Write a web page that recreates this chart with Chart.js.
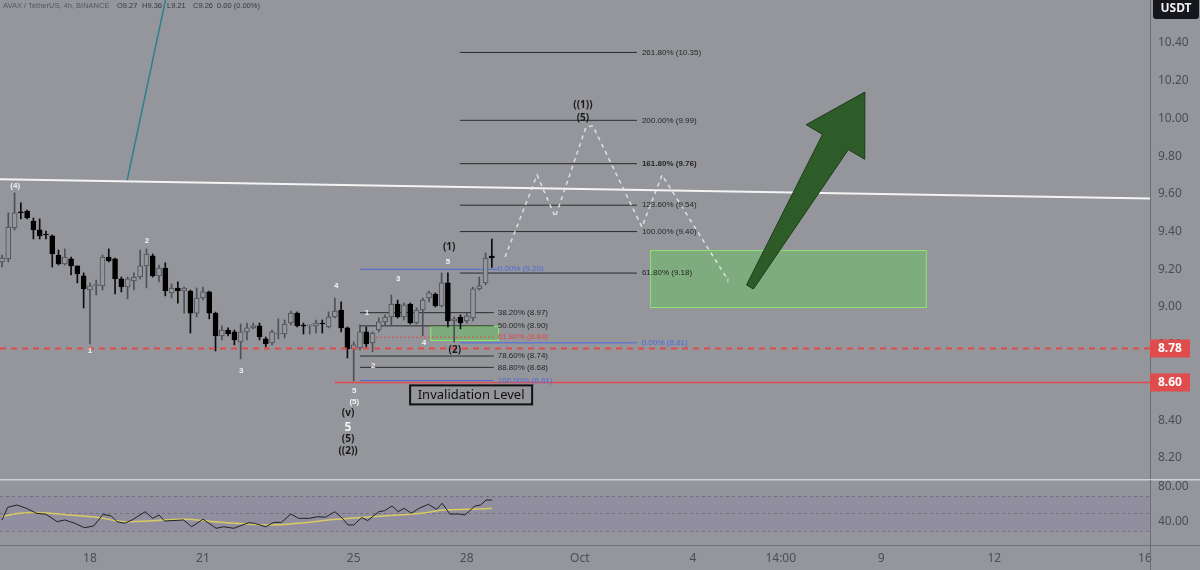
<!DOCTYPE html>
<html>
<head>
<meta charset="utf-8">
<script src="https://cdn.jsdelivr.net/npm/chart.js@4.4.1/dist/chart.umd.min.js"></script>
<style>
  html, body { margin: 0; padding: 0; background: #94969b; }
  #wrap { position: relative; width: 1200px; height: 570px; overflow: hidden; }
  #price { position: absolute; left: 0; top: 0; }
  #osc { position: absolute; left: 0; top: 479px; }
</style>
</head>
<body>
<div id="wrap">
  <canvas id="price" width="1200" height="479"></canvas>
  <canvas id="osc" width="1200" height="91"></canvas>
</div>
<script>
// AVAX/USDT 4h candles
const opens = [9.239, 9.255, 9.419, 9.504, 9.509, 9.456, 9.409, 9.385, 9.377, 9.276,
  9.228, 9.255, 9.218, 9.165, 9.09, 9.115, 9.112, 9.265, 9.255, 9.149,
  9.106, 9.138, 9.159, 9.218, 9.271, 9.165, 9.207, 9.075, 9.101, 9.085,
  9.085, 8.968, 9.048, 9.08, 8.968, 8.847, 8.878, 8.868, 8.815, 8.868,
  8.889, 8.9, 8.831, 8.809, 8.857, 8.857, 8.915, 8.968, 8.902, 8.9,
  8.9, 8.915, 8.894, 8.947, 8.984, 8.889, 8.778, 8.783, 8.868, 8.809,
  8.878, 8.921, 8.947, 9.016, 8.947, 9.016, 8.915, 8.984, 9.048, 9.069,
  9.006, 9.128, 8.926, 8.947, 8.926, 8.942, 9.096, 9.128, 9.27];
const highs = [9.276, 9.499, 9.605, 9.552, 9.514, 9.472, 9.467, 9.403, 9.382, 9.302,
  9.308, 9.265, 9.218, 9.181, 9.128, 9.143, 9.276, 9.308, 9.26, 9.159,
  9.159, 9.181, 9.302, 9.308, 9.281, 9.223, 9.234, 9.122, 9.133, 9.106,
  9.09, 9.101, 9.106, 9.085, 8.973, 8.9, 8.889, 8.878, 8.91, 8.915,
  8.915, 8.915, 8.841, 8.878, 8.937, 8.931, 8.979, 8.974, 8.915, 8.905,
  8.931, 8.931, 8.974, 9.048, 9.027, 8.894, 8.815, 8.905, 8.894, 8.868,
  8.942, 8.958, 9.064, 9.037, 9.021, 9.021, 8.995, 9.048, 9.085, 9.075,
  9.181, 9.181, 8.947, 8.958, 8.968, 9.106, 9.159, 9.287, 9.36];
const lows = [9.212, 9.239, 9.409, 9.467, 9.467, 9.361, 9.361, 9.361, 9.212, 9.223,
  9.223, 9.17, 9.128, 8.995, 8.804, 9.064, 9.09, 9.239, 9.069, 9.08,
  9.043, 9.09, 9.149, 9.101, 9.159, 9.133, 9.059, 9.048, 9.021, 8.968,
  8.862, 8.947, 9.037, 8.937, 8.767, 8.825, 8.847, 8.799, 8.725, 8.825,
  8.884, 8.825, 8.788, 8.799, 8.831, 8.836, 8.905, 8.894, 8.857, 8.857,
  8.862, 8.862, 8.889, 8.942, 8.868, 8.73, 8.608, 8.772, 8.788, 8.762,
  8.868, 8.905, 8.905, 8.942, 8.931, 8.91, 8.91, 8.847, 9.027, 9.0,
  9.0, 8.894, 8.815, 8.884, 8.915, 8.926, 9.09, 9.117, 9.21];
const closes = [9.26, 9.424, 9.499, 9.499, 9.472, 9.409, 9.377, 9.382, 9.281, 9.228,
  9.265, 9.218, 9.175, 9.096, 9.112, 9.117, 9.265, 9.244, 9.149, 9.106,
  9.149, 9.159, 9.218, 9.281, 9.165, 9.207, 9.085, 9.101, 9.085, 9.101,
  8.968, 9.048, 9.08, 8.968, 8.847, 8.878, 8.857, 8.825, 8.868, 8.889,
  8.9, 8.841, 8.804, 8.868, 8.86, 8.91, 8.968, 8.9, 8.899, 8.902,
  8.915, 8.91, 8.947, 8.979, 8.889, 8.778, 8.799, 8.868, 8.804, 8.862,
  8.921, 8.947, 9.016, 8.947, 9.011, 8.915, 8.984, 9.037, 9.075, 9.006,
  9.128, 8.926, 8.937, 8.915, 8.953, 9.096, 9.112, 9.26, 9.26];

// RSI pane
const rsiX = [0, 0.9, 2.4, 3.9, 5.5, 7.0, 8.8, 10, 11.6, 13.1, 14.6, 16.1, 17.4, 18.3, 19.5, 20.7, 22.8, 24, 25, 25.9,
  28.9, 30.2, 32, 34.1, 35.3, 36.9, 39.3, 40.2, 42, 43.3, 44.5, 46, 47.2, 49, 50.3, 51.5, 53, 54.2, 55.1, 56,
  57.3, 58.2, 60, 60.9, 62.1, 63.1, 64, 65.2, 66.4, 67.9, 69.2, 70.1, 71.3, 72.8, 73.7, 74.3, 75.3, 76.2, 77.1, 78];
const rsiY = [42.3, 56.8, 59.4, 55.6, 50, 48.8, 40.4, 42.3, 38.5, 33.5, 35.4, 48.8, 46.9, 40.4, 38.5, 42.3, 51.8, 44.2, 48, 41.1,
  42.3, 34.6, 43.1, 32.8, 34.6, 32.8, 39.2, 38.5, 34.6, 39.6, 39.6, 49.1, 44.2, 44.2, 46.1, 45.4, 51.8, 44.2, 36.6, 36.6,
  45, 41.5, 51.8, 52.9, 58.3, 51.8, 55.6, 50, 55.6, 60.2, 54.5, 61.4, 49.1, 49.1, 48, 51.8, 58.3, 59.4, 65.1, 65.1];
const maX = [0, 2.7, 6.4, 10.7, 15, 19.7, 29, 33.8, 42.4, 47.1, 53.3, 60.7, 66.7, 70.4, 74.7, 78];
const maY = [46.1, 50, 50.7, 48, 45.4, 40.4, 43.1, 40.4, 36.6, 38.5, 43.1, 46.9, 50, 53.7, 54.5, 55.6];

// axes
const priceTicks = [8.2, 8.4, 8.6, 8.8, 9.0, 9.2, 9.4, 9.6, 9.8, 10.0, 10.2, 10.4];
const rsiTicks = [40, 80];
const timeTicks = [14, 32, 56, 74, 92, 110, 124, 140, 158, 182];
const timeLabels = ['18', '21', '25', '28', 'Oct', '4', '14:00', '9', '12', '16'];

// drawings
const fibUpLevels = [10.35, 9.99, 9.76, 9.54, 9.40, 9.18, 8.81];
const fibUpNames = ['261.80%', '200.00%', '161.80%', '123.60%', '100.00%', '61.80%', '0.00%'];
const fibLowLevels = [9.20, 8.97, 8.90, 8.84, 8.74, 8.68, 8.61];
const fibLowNames = ['0.00%', '38.20%', '50.00%', '61.80%', '78.60%', '88.80%', '100.00%'];
const pathX = [80.1, 85.2, 88.1, 93.0, 94.1, 101.9, 105.1, 115.6];
const pathY = [9.265, 9.70, 9.477, 9.955, 9.96, 9.424, 9.70, 9.143];
const trendX = [-0.32, 182.8];
const trendY = [9.677, 9.575];
const tealX = [19.9, 27];
const tealY = [9.668, 10.78];
const zoneX0 = [68.2, 103.2];
const zoneX1 = [79.0, 147.1];
const zoneTop = [8.90, 9.302];
const zoneBot = [8.825, 9.0];
const arrowFrom = [119.1, 9.106];
const arrowTo = [137.4, 10.14];
const waveText = ['(4)', '2', '1', '3', '4', '1', '2', '3', '4', '5', '5', '(5)', '(v)', '5', '(5)', '((2))', '(1)', '(2)', '((1))', '(5)', 'i'];
const waveX = [2.1, 23.1, 14.0, 38.1, 53.2, 58.1, 59.1, 63.1, 67.2, 71.0, 56.1, 56.1, 55.1, 55.1, 55.1, 55.1, 71.2, 72.1, 92.5, 92.5, 115.6];
const waveY = [9.642, 9.35, 8.767, 8.661, 9.112, 8.968, 8.687, 9.149, 8.809, 9.239, 8.555, 8.497, 8.438, 8.359, 8.30, 8.237, 9.318, 8.772, 10.071, 10.002, 9.138];

const X_MIN = -0.32, X_MAX = 182.8;
const BG = '#94969b';
const AXIS = '#4a4d55';
const UP = '#4d5057';
const FONT = '"Noto Sans", sans-serif';
const SMALL = '"Liberation Sans", Arial, sans-serif';
const BLUE = '#4a6be0';
const RED = '#e04b4b';
const idx = opens.map((o, i) => i);
const isUp = i => closes[i] >= opens[i];

function seg(xs, ys, color, width, dash, order) {
  return {
    type: 'line',
    data: xs.map((x, i) => ({ x: x, y: ys[i] })),
    borderColor: color, borderWidth: width, borderDash: dash || [],
    pointRadius: 0, fill: false, tension: 0, order: order
  };
}

const fibSets = [];
fibUpLevels.forEach((v, i) => {
  fibSets.push(seg([72.9, 101.1], [v, v], v === 8.81 ? BLUE : '#2b2b2b', 1, [], 10));
});
fibLowLevels.forEach((v, i) => {
  const c = i === 0 || i === 6 ? BLUE : (i === 3 ? RED : '#2b2b2b');
  fibSets.push(seg([57.0, i === 0 ? 79.0 : 78.3], [v, v], c, 1, i === 3 ? [2, 2] : [], 10));
});

function px(chart, x, y) {
  return [chart.scales.x.getPixelForValue(x), chart.scales.y.getPixelForValue(y)];
}

// drop the half-label padding Chart.js adds above and below a vertical axis
function noPad(s) {
  s.width = 50;
  s.paddingTop = 0;
  s.paddingBottom = 0;
}

const overlay = {
  id: 'overlay',
  beforeDatasetsDraw(chart) {
    const ctx = chart.ctx;
    ctx.save();
    zoneX0.forEach((x0, i) => {
      const a = px(chart, x0, zoneTop[i]);
      const b = px(chart, zoneX1[i], zoneBot[i]);
      ctx.fillStyle = 'rgba(100,200,90,0.45)';
      ctx.fillRect(a[0], a[1], b[0] - a[0], b[1] - a[1]);
      ctx.strokeStyle = '#8ee46f';
      ctx.lineWidth = 1;
      ctx.strokeRect(a[0] + 0.5, a[1] + 0.5, b[0] - a[0], b[1] - a[1]);
    });
    ctx.restore();
  },
  afterDatasetsDraw(chart) {
    const ctx = chart.ctx;
    ctx.save();
    // big arrow
    const t = px(chart, arrowFrom[0], arrowFrom[1]);
    const h = px(chart, arrowTo[0], arrowTo[1]);
    const dx = h[0] - t[0], dy = h[1] - t[1];
    const len = Math.hypot(dx, dy);
    const ux = dx / len, uy = dy / len;
    const nx = -uy, ny = ux;
    const bx = h[0] - ux * 58, by = h[1] - uy * 58;
    ctx.beginPath();
    ctx.moveTo(t[0] - nx * 4, t[1] - ny * 4);
    ctx.lineTo(bx - nx * 15, by - ny * 15);
    ctx.lineTo(bx - nx * 34, by - ny * 34);
    ctx.lineTo(h[0], h[1]);
    ctx.lineTo(bx + nx * 34, by + ny * 34);
    ctx.lineTo(bx + nx * 15, by + ny * 15);
    ctx.lineTo(t[0] + nx * 4, t[1] + ny * 4);
    ctx.closePath();
    ctx.fillStyle = '#2e5c29';
    ctx.fill();
    ctx.strokeStyle = '#1c3a19';
    ctx.lineWidth = 1;
    ctx.stroke();

    // fib labels
    ctx.textBaseline = 'middle';
    ctx.textAlign = 'left';
    fibUpLevels.forEach((v, i) => {
      const p = px(chart, 101.1, v);
      ctx.font = (i === 2 ? 'bold ' : '') + '8px ' + SMALL;
      ctx.fillStyle = v === 8.81 ? BLUE : '#262626';
      ctx.fillText(fibUpNames[i] + ' (' + v.toFixed(2) + ')', p[0] + 5, p[1]);
    });
    fibLowLevels.forEach((v, i) => {
      const p = px(chart, 78.3, v);
      ctx.font = '8px ' + SMALL;
      ctx.fillStyle = i === 0 || i === 6 ? BLUE : (i === 3 ? RED : '#262626');
      ctx.fillText(fibLowNames[i] + ' (' + v.toFixed(2) + ')', p[0] + 4, p[1]);
    });

    // wave counts
    ctx.textAlign = 'center';
    waveText.forEach((s, i) => {
      const p = px(chart, waveX[i], waveY[i]);
      let font = 'bold 8px ' + SMALL, col = '#f2f2f2';
      if (s === '(1)' || s === '(2)' || s === '((1))' || s === '((2))' || s === '(v)' || (s === '(5)' && i !== 11)) {
        font = 'bold 10px ' + FONT; col = '#1a1a1a';
      }
      if (i === 13) { font = 'bold 12px ' + FONT; }
      if (s === 'i') { col = 'rgba(235,235,235,0.6)'; }
      ctx.font = font;
      ctx.fillStyle = col;
      ctx.fillText(s, p[0], p[1]);
    });

    // invalidation level box
    const c = px(chart, 74.7, 8.534);
    ctx.strokeStyle = '#111';
    ctx.lineWidth = 2;
    ctx.strokeRect(c[0] - 61, c[1] - 9.5, 122, 19);
    ctx.font = '13px ' + FONT;
    ctx.fillStyle = '#111';
    ctx.fillText('Invalidation Level', c[0], c[1] + 0.5);
    ctx.restore();
  },
  afterDraw(chart) {
    const ctx = chart.ctx;
    const area = chart.chartArea;
    ctx.save();
    // header
    ctx.textBaseline = 'middle';
    ctx.textAlign = 'left';
    ctx.font = '7.5px ' + SMALL;
    ctx.fillStyle = '#55585f';
    ctx.fillText('AVAX / TetherUS, 4h, BINANCE', 3, 6);
    const parts = ['O9.27', 'H9.36', 'L9.21', 'C9.26', '0.00 (0.00%)'];
    const xs = [117, 142, 167, 193, 217];
    ctx.fillStyle = '#35383f';
    parts.forEach((s, i) => ctx.fillText(s, xs[i], 6));
    // USDT tag
    ctx.fillStyle = '#15171c';
    ctx.beginPath();
    ctx.roundRect(area.right + 3, -4, 46, 23, 3);
    ctx.fill();
    ctx.fillStyle = '#f0f0f0';
    ctx.font = 'bold 12px ' + FONT;
    ctx.textAlign = 'center';
    ctx.fillText('USDT', area.right + 26, 9);
    // price tags
    [8.78, 8.60].forEach(v => {
      const y = chart.scales.y.getPixelForValue(v);
      ctx.fillStyle = RED;
      ctx.fillRect(area.right, y - 9, 40, 18);
      ctx.fillStyle = '#ffffff';
      ctx.font = 'bold 12px ' + FONT;
      ctx.textAlign = 'left';
      ctx.fillText(v.toFixed(2), area.right + 8, y + 0.5);
    });
    ctx.restore();
  }
};

new Chart(document.getElementById('price'), {
  type: 'bar',
  data: {
    datasets: [
      {
        type: 'bar',
        data: idx.map(i => ({ x: i, y: [lows[i], highs[i]] })),
        backgroundColor: c => isUp(c.dataIndex) ? UP : '#0c0c0c',
        barThickness: 1,
        grouped: false,
        order: 6
      },
      {
        type: 'bar',
        data: idx.map(i => ({ x: i, y: [opens[i], closes[i]] })),
        backgroundColor: c => isUp(c.dataIndex) ? BG : '#000000',
        borderColor: c => isUp(c.dataIndex) ? UP : '#000000',
        borderWidth: 1,
        borderSkipped: false,
        minBarLength: 1,
        barThickness: 5,
        grouped: false,
        order: 5
      },
      ...fibSets,
      seg([X_MIN, X_MAX], [8.78, 8.78], RED, 2, [6, 5], 3),
      seg([53, X_MAX], [8.60, 8.60], RED, 1.5, [], 3),
      seg(trendX, trendY, '#f4f4f4', 2, [], 2),
      seg(tealX, tealY, '#2f7f8e', 1.5, [], 2),
      seg(pathX, pathY, 'rgba(236,236,236,0.85)', 1.5, [4, 4], 1)
    ]
  },
  options: {
    responsive: false,
    devicePixelRatio: 1,
    animation: false,
    layout: { padding: 0 },
    plugins: { legend: { display: false }, tooltip: { enabled: false } },
    scales: {
      x: { type: 'linear', min: X_MIN, max: X_MAX, display: false, offset: false },
      y: {
        type: 'linear', position: 'right', min: 8.088, max: 10.628,
        afterBuildTicks: s => { s.ticks = priceTicks.map(v => ({ value: v })); },
        afterFit: noPad,
        grid: { display: false, drawTicks: false },
        border: { display: true, color: '#6b6e75', width: 1 },
        ticks: { padding: 8, color: AXIS, font: { size: 12, family: FONT }, callback: v => v.toFixed(2) }
      }
    }
  },
  plugins: [overlay]
});

const rsiPane = {
  id: 'rsiPane',
  beforeDatasetsDraw(chart) {
    const ctx = chart.ctx;
    const a = chart.chartArea;
    const y = chart.scales.y;
    ctx.save();
    ctx.fillStyle = 'rgba(126,100,190,0.12)';
    ctx.fillRect(a.left, y.getPixelForValue(70), a.right - a.left, y.getPixelForValue(30) - y.getPixelForValue(70));
    ctx.strokeStyle = 'rgba(90,92,100,0.6)';
    ctx.setLineDash([3, 3]);
    ctx.lineWidth = 1;
    [70, 50, 30].forEach(v => {
      const p = Math.round(y.getPixelForValue(v)) + 0.5;
      ctx.beginPath(); ctx.moveTo(a.left, p); ctx.lineTo(a.right, p); ctx.stroke();
    });
    ctx.restore();
  },
  afterDraw(chart) {
    const ctx = chart.ctx;
    const a = chart.chartArea;
    ctx.save();
    ctx.strokeStyle = '#cdced1';
    ctx.lineWidth = 2;
    ctx.beginPath(); ctx.moveTo(0, 0.5); ctx.lineTo(1200, 0.5); ctx.stroke();
    ctx.strokeStyle = '#70737a';
    ctx.lineWidth = 1;
    ctx.beginPath(); ctx.moveTo(0, a.bottom + 0.5); ctx.lineTo(1200, a.bottom + 0.5); ctx.stroke();
    ctx.strokeStyle = '#6b6e75';
    ctx.beginPath(); ctx.moveTo(a.right + 0.5, 1); ctx.lineTo(a.right + 0.5, 91); ctx.stroke();
    ctx.restore();
  }
};

new Chart(document.getElementById('osc'), {
  type: 'line',
  data: {
    datasets: [
      { data: rsiX.map((x, i) => ({ x: x, y: rsiY[i] })), borderColor: '#202124', borderWidth: 1, pointRadius: 0, tension: 0 },
      { data: maX.map((x, i) => ({ x: x, y: maY[i] })), borderColor: '#d9cb62', borderWidth: 1.5, pointRadius: 0, tension: 0.4 }
    ]
  },
  options: {
    responsive: false,
    devicePixelRatio: 1,
    animation: false,
    layout: { padding: 0 },
    plugins: { legend: { display: false }, tooltip: { enabled: false } },
    scales: {
      x: {
        type: 'linear', min: X_MIN, max: X_MAX, offset: false,
        afterBuildTicks: s => { s.ticks = timeTicks.map(v => ({ value: v })); },
        afterFit: s => { s.height = 25; s.paddingLeft = 0; s.paddingRight = 0; },
        grid: { display: false, drawTicks: false },
        border: { display: false },
        ticks: { padding: 6, maxRotation: 0, autoSkip: false, color: AXIS, font: { size: 12, family: FONT },
          callback: (v, i) => timeLabels[i] }
      },
      y: {
        type: 'linear', position: 'right', min: 13.71, max: 89.14,
        afterBuildTicks: s => { s.ticks = rsiTicks.map(v => ({ value: v })); },
        afterFit: noPad,
        grid: { display: false, drawTicks: false },
        border: { display: false },
        ticks: { padding: 8, color: AXIS, font: { size: 12, family: FONT }, callback: v => v.toFixed(2) }
      }
    }
  },
  plugins: [rsiPane]
});
</script>
</body>
</html>
